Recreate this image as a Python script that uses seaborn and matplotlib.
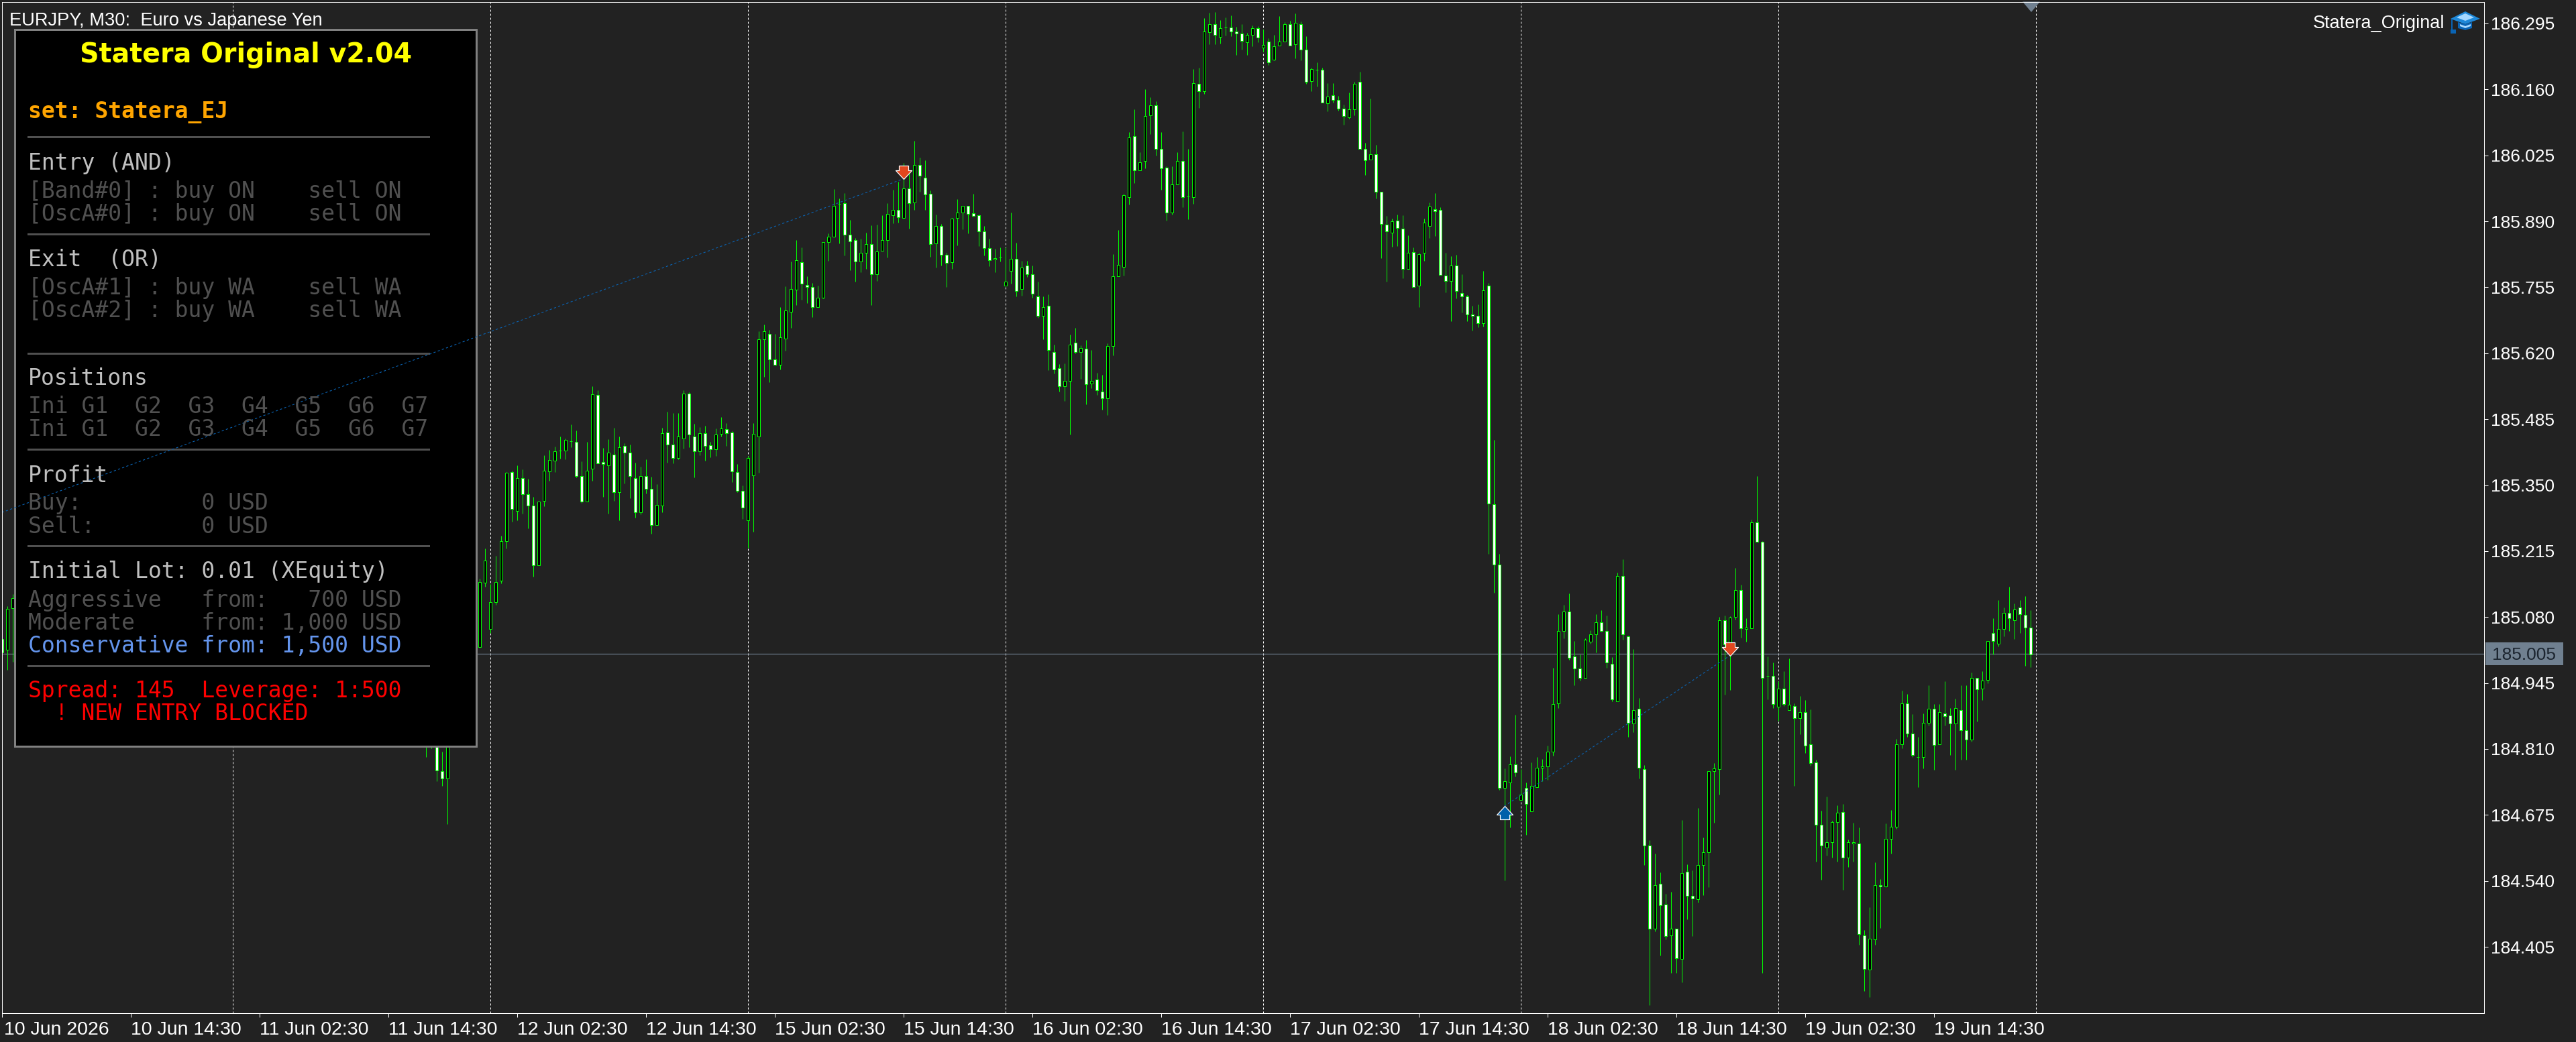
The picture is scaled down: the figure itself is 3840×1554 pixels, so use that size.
import numpy as np
import pandas as pd
import matplotlib
matplotlib.use("Agg")
import matplotlib.pyplot as plt
from matplotlib.patches import Rectangle, Polygon
from matplotlib.path import Path
from matplotlib.transforms import ScaledTranslation
import seaborn as sns

# ---------- data: points above 184.000 (1 point = 0.001 JPY) ----------
BASE = 184.0
bar_numbers = [0, 1, 2] + list(range(79, 84)) + list(range(89, 379))
opens_pts = [1035,1013,1098,900,830,900,765,750,
1019,1151,1056,1110,1155,1236,1377,1297,1364,1331,
1308,1186,1318,1378,1400,1421,1421,1440,1439,1369,
1316,1384,1534,1397,1391,1413,1335,1431,1417,1365,
1295,1368,1342,1268,1308,1458,1433,1405,1446,1537,
1450,1420,1457,1432,1423,1455,1464,1458,1377,1339,
1278,1370,1449,1648,1660,1608,1597,1650,1705,1750,
1807,1760,1756,1715,1734,1848,1859,1926,1927,1863,
1851,1808,1826,1844,1781,1830,1851,1903,1913,1897,
1957,1929,2006,1980,1947,1845,1881,1821,1807,1897,
1908,1922,1907,1902,1869,1835,1812,1816,1759,1789,
1813,1751,1799,1781,1737,1696,1717,1623,1589,1553,
1564,1642,1623,1630,1558,1566,1541,1528,1635,1778,
1797,1940,2065,1994,2013,2107,2127,2038,2000,1908,
1966,2013,1941,1940,2172,2157,2277,2294,2268,2288,
2287,2279,2274,2257,2271,2286,2245,2258,2221,2250,
2258,2293,2252,2293,2242,2177,2200,2200,2131,2148,
2139,2121,2103,2120,2176,2038,2017,2027,1951,1883,
1867,1892,1875,1793,1827,1758,1825,1881,1915,1913,
1779,1768,1800,1743,1737,1700,1696,1682,1758,1311,
1187,731,742,779,706,730,682,732,771,774,
805,903,1051,1091,1000,975,955,1030,1045,1069,
1052,984,907,1164,1041,862,892,769,612,442,
534,491,428,442,380,559,510,503,572,599,
765,769,1074,1024,1081,1135,1056,1057,1274,1234,
960,960,897,933,889,898,873,885,820,782,
655,608,619,661,681,587,617,616,429,359,
420,532,529,626,651,820,903,841,794,793,
864,892,820,883,878,862,890,849,829,956,
933,951,1047,1026,1056,1089,1073,1100,1085,1059]
closes_pts = [1008,1097,1119,880,850,766,750,900,
1152,1196,1110,1152,1235,1375,1301,1364,1332,1308,
1186,1317,1379,1401,1419,1421,1442,1440,1369,1317,
1380,1536,1395,1393,1416,1336,1428,1417,1368,1294,
1368,1342,1268,1309,1457,1433,1406,1450,1537,1453,
1420,1457,1431,1423,1453,1466,1457,1378,1339,1304,
1406,1455,1648,1665,1608,1597,1652,1708,1751,1810,
1762,1756,1715,1734,1848,1859,1922,1926,1863,1849,
1808,1826,1844,1781,1829,1851,1905,1913,1899,1958,
1927,2006,1983,1945,1844,1881,1822,1805,1896,1908,
1921,1905,1901,1870,1835,1811,1815,1816,1767,1813,
1748,1796,1782,1742,1697,1715,1626,1587,1553,1564,
1638,1623,1631,1557,1564,1544,1528,1635,1778,1801,
1943,2061,1994,2011,2106,2127,2039,1998,1908,1966,
2013,1939,1941,2173,2157,2278,2294,2271,2286,2288,
2279,2275,2260,2271,2286,2266,2251,2215,2249,2258,
2293,2250,2297,2242,2176,2201,2200,2133,2146,2139,
2121,2105,2120,2172,2038,2015,2027,1951,1885,1869,
1890,1876,1793,1826,1756,1823,1888,1920,1911,1780,
1768,1800,1748,1737,1700,1696,1682,1749,1312,1188,
730,744,778,762,717,697,734,771,774,805,
902,1051,1091,997,975,955,1033,1045,1070,1052,
987,912,1164,1045,863,890,771,612,442,532,
490,427,442,382,556,510,504,572,599,765,
770,1074,1024,1079,1135,1057,1059,1274,1234,956,
960,902,934,902,900,873,886,817,781,655,
612,619,660,679,587,619,619,431,360,421,
532,529,626,651,820,903,841,797,794,864,
892,818,885,877,862,894,848,829,955,932,
950,1031,1031,1056,1089,1078,1096,1086,1059,1004]
highs_pts = [1050,1102,1127,900,860,920,805,910,
1159,1221,1147,1205,1247,1377,1379,1391,1382,1363,
1326,1317,1411,1422,1429,1450,1445,1474,1462,1399,
1439,1553,1544,1426,1444,1467,1450,1436,1433,1396,
1388,1403,1367,1352,1467,1500,1498,1498,1544,1540,
1476,1469,1471,1438,1466,1490,1477,1461,1393,1349,
1410,1477,1665,1679,1668,1660,1714,1757,1808,1852,
1836,1777,1764,1758,1848,1865,1956,1937,1948,1893,
1856,1854,1867,1882,1883,1902,1927,1955,1971,2010,
1988,2055,2020,2015,1953,1904,1885,1826,1897,1935,
1921,1922,1947,1904,1880,1855,1834,1836,1837,1908,
1846,1809,1809,1800,1767,1737,1740,1638,1598,1599,
1658,1672,1636,1647,1627,1580,1576,1640,1823,1872,
1947,2072,2119,2032,2161,2144,2136,2072,2002,2002,
2032,2074,2039,2201,2204,2306,2317,2318,2302,2307,
2312,2288,2294,2276,2291,2290,2282,2265,2272,2310,
2298,2301,2316,2299,2269,2205,2216,2205,2173,2173,
2147,2129,2154,2175,2196,2051,2141,2047,1951,1901,
1895,1904,1902,1861,1837,1826,1896,1928,1948,1919,
1826,1819,1821,1782,1739,1717,1720,1789,1764,1443,
1210,770,795,880,769,741,782,793,790,817,
976,1086,1105,1128,1031,1004,1037,1053,1086,1094,
1083,998,1171,1198,1042,1014,914,777,623,596,
558,513,517,442,664,574,561,689,629,765,
781,1081,1083,1082,1181,1146,1077,1280,1369,1236,
1000,987,949,969,995,903,919,910,891,788,
683,712,663,695,697,625,659,649,440,486,
578,544,657,685,830,929,923,882,834,883,
940,902,902,948,893,913,941,940,967,956,
969,1031,1078,1114,1100,1142,1108,1114,1123,1094]
lows_pts = [995,972,988,793,811,744,734,656,
1018,1142,1047,1105,1149,1221,1275,1278,1292,1262,
1163,1186,1307,1359,1377,1404,1403,1428,1366,1314,
1316,1359,1395,1326,1292,1318,1278,1354,1323,1283,
1291,1333,1251,1268,1295,1396,1395,1403,1425,1428,
1366,1411,1400,1407,1410,1450,1430,1356,1336,1281,
1222,1255,1375,1572,1561,1595,1587,1625,1672,1718,
1730,1722,1694,1715,1732,1809,1859,1845,1820,1790,
1767,1786,1793,1718,1768,1830,1816,1886,1888,1896,
1875,1913,1951,1913,1817,1795,1800,1755,1792,1841,
1873,1866,1900,1839,1820,1798,1786,1808,1759,1763,
1737,1738,1776,1733,1693,1648,1586,1579,1542,1522,
1453,1620,1567,1516,1548,1535,1504,1494,1616,1777,
1779,1925,1968,1994,1999,2069,2025,1954,1892,1904,
1966,1919,1894,1926,2122,2151,2252,2252,2254,2270,
2269,2230,2241,2230,2248,2257,2237,2210,2220,2250,
2258,2250,2224,2219,2172,2156,2166,2133,2115,2133,
2117,2088,2100,2107,2038,1985,2017,1937,1815,1767,
1838,1840,1773,1791,1756,1714,1809,1856,1860,1780,
1744,1686,1732,1704,1686,1666,1673,1674,1209,1130,
726,541,650,754,706,634,682,732,744,747,
796,894,1036,993,941,950,955,1026,1007,1050,
976,907,907,1034,835,844,750,572,286,437,
387,420,351,351,332,461,427,495,511,527,
659,717,921,931,1075,1038,1029,1057,1234,352,
911,894,868,898,889,734,840,802,776,580,
542,592,587,580,522,568,580,409,315,302,
409,443,527,596,646,812,834,794,732,770,
858,768,820,858,798,768,788,788,825,866,
910,944,1004,1020,1040,1052,1035,1048,980,978]

time_labels = ["10 Jun 2026", "10 Jun 14:30", "11 Jun 02:30", "11 Jun 14:30",
               "12 Jun 02:30", "12 Jun 14:30", "15 Jun 02:30", "15 Jun 14:30",
               "16 Jun 02:30", "16 Jun 14:30", "17 Jun 02:30", "17 Jun 14:30",
               "18 Jun 02:30", "18 Jun 14:30", "19 Jun 02:30", "19 Jun 14:30"]
price_ticks = [186.295, 186.160, 186.025, 185.890, 185.755, 185.620, 185.485, 185.350,
               185.215, 185.080, 184.945, 184.810, 184.675, 184.540, 184.405]
last_price = 185.005

# closed trades: entry/exit bars and prices
trade_1_bars = [0, 168]
trade_1_prices = [185.294, 185.977]
trade_2_bars = [280, 322]
trade_2_prices = [184.693, 185.001]
sell_bars = [168, 322]
sell_prices = [185.977, 185.001]
buy_bars = [280]
buy_prices = [184.693]

grid_bars = [43, 91, 139, 187, 235, 283, 331, 379]
tick_bars = [24 * k for k in range(len(time_labels))]

# ---------- panel text ----------
panel_lines = [
    ("set: Statera_EJ", 164, "#FFA500", "bold"),
    ("Entry (AND)", 240, "#C0C0C0", "normal"),
    ("[Band#0] : buy ON    sell ON", 282, "#505050", "normal"),
    ("[OscA#0] : buy ON    sell ON", 316, "#505050", "normal"),
    ("Exit  (OR)", 384, "#C0C0C0", "normal"),
    ("[OscA#1] : buy WA    sell WA", 426, "#505050", "normal"),
    ("[OscA#2] : buy WA    sell WA", 460, "#505050", "normal"),
    ("Positions", 561, "#C0C0C0", "normal"),
    ("Ini G1  G2  G3  G4  G5  G6  G7", 603, "#505050", "normal"),
    ("Ini G1  G2  G3  G4  G5  G6  G7", 637, "#505050", "normal"),
    ("Profit", 706, "#C0C0C0", "normal"),
    ("Buy:         0 USD", 747, "#505050", "normal"),
    ("Sell:        0 USD", 782, "#505050", "normal"),
    ("Initial Lot: 0.01 (XEquity)", 849, "#C0C0C0", "normal"),
    ("Aggressive   from:   700 USD", 892, "#505050", "normal"),
    ("Moderate     from: 1,000 USD", 926, "#505050", "normal"),
    ("Conservative from: 1,500 USD", 960, "#6495ED", "normal"),
    ("Spread: 145  Leverage: 1:500", 1027, "#FF0000", "normal"),
    ("  ! NEW ENTRY BLOCKED", 1061, "#FF0000", "normal"),
]
panel_rules = [204, 349, 527, 670, 814, 993]

# ---------- build ----------
W, H = 3840, 1554
BG = "#222222"
GREEN = "#00FF00"
SLATE = "#708090"
sns.set_theme(style="dark", rc={"figure.facecolor": BG, "axes.facecolor": BG,
                                "axes.edgecolor": "white", "axes.grid": False})
plt.rcParams["font.family"] = ["Liberation Sans", "DejaVu Sans"]

df = pd.DataFrame({"bar": bar_numbers,
                   "open": BASE + np.array(opens_pts) / 1000,
                   "high": BASE + np.array(highs_pts) / 1000,
                   "low": BASE + np.array(lows_pts) / 1000,
                   "close": BASE + np.array(closes_pts) / 1000})
df["up"] = df["close"] >= df["open"]

fig = plt.figure(figsize=(W / 100, H / 100), dpi=100, facecolor=BG)
L, R, T, B = 2.5, 3703.5, 2.5, 1510.5
X0 = 2.6  # pixel of bar 0
ax = fig.add_axes([L / W, 1 - B / H, (R - L) / W, (B - T) / H])


def fx(x):
    return x / W


def fy(y):
    return 1 - y / H


PX = 0.72  # one pixel in points
for s in ax.spines.values():
    s.set_linewidth(PX)
    s.set_color("white")
    s.set_zorder(20)

# grid
grid_lines = ax.vlines(grid_bars, 0, 1, transform=ax.get_xaxis_transform(), colors="white",
                       linewidth=PX, linestyles=(0, (3, 3)), zorder=1)
grid_lines.set_snap(True)
# bid line
ax.axhline(last_price, color=SLATE, linewidth=PX * 1.2, zorder=1.5)

# candles
wicks = ax.vlines(df["bar"], df["low"], df["high"], colors=GREEN, linewidth=PX, zorder=2)
wicks.set_snap(True)
for up, face in [(True, "#000000"), (False, "#FFFFFF")]:
    d = df[df["up"] == up]
    ax.bar(d["bar"], (d["close"] - d["open"]).abs(), bottom=d[["open", "close"]].min(axis=1),
           width=0.5, facecolor=face, edgecolor=GREEN, linewidth=PX, zorder=3)

ppx = 0.135 / 98.36
y_top = 186.295 + (35 - T) * ppx
y_bot = 186.295 - (B - 35) * ppx
x_lo, x_hi = (L - X0) / 8, (R - X0) / 8
ax.set_xlim(x_lo, x_hi)
ax.set_ylim(y_bot, y_top)

# ticks
ax.yaxis.tick_right()
ax.set_yticks(price_ticks)
ax.set_yticklabels([f"{p:.3f}" for p in price_ticks], color="white", fontsize=19)
ax.set_xticks(tick_bars)
ax.set_xticklabels(time_labels, color="white", fontsize=20.5, ha="left")
ax.tick_params(axis="y", right=True, length=4, width=PX, color="white", pad=3)
ax.tick_params(axis="x", bottom=True, length=4, width=PX, color="white", pad=5)

# panel
panel_kw = dict(transform=fig.transFigure, clip_on=False)
ax.add_patch(Rectangle((fx(22), fy(1113)), (710 - 22) / W, (1113 - 44) / H, facecolor="#000000",
                       edgecolor="#808080", linewidth=PX * 3, zorder=5, **panel_kw))
for ry in panel_rules:
    ax.add_patch(Rectangle((fx(41), fy(ry + 1.5)), 600 / W, 3 / H, facecolor="#505050",
                           edgecolor="none", zorder=5.2, **panel_kw))

# trade lines over the panel
for bars, prices in [(trade_1_bars, trade_1_prices), (trade_2_bars, trade_2_prices)]:
    t = pd.DataFrame({"bar": bars, "price": prices})
    sns.lineplot(data=t, x="bar", y="price", ax=ax, color="#0A64B4", linewidth=PX * 1.1,
                 linestyle=(0, (3, 3)), estimator=None, sort=False, legend=False, zorder=6)

down_arrow = Path([(0, 0), (12, 13), (7, 13), (7, 20), (-7, 20), (-7, 13), (-12, 13), (0, 0)], closed=True)
up_arrow = Path([(0, 0), (12, -13), (7, -13), (7, -20), (-7, -20), (-7, -13), (-12, -13), (0, 0)], closed=True)
msize = (20 * 2 * PX) ** 2
sns.scatterplot(x=sell_bars, y=sell_prices, ax=ax, marker=down_arrow, s=msize, color="#E2471E",
                edgecolor="white", linewidth=PX * 1.2, zorder=7, legend=False)
sns.scatterplot(x=buy_bars, y=buy_prices, ax=ax, marker=up_arrow, s=msize, color="#0060AA",
                edgecolor="white", linewidth=PX * 1.2, zorder=7, legend=False)
ax.set_xlim(x_lo, x_hi)
ax.set_ylim(y_bot, y_top)
ax.set_xlabel("")
ax.set_ylabel("")

# first time label starts a little right of its tick
first_label = ax.get_xticklabels()[0]
first_label.set_transform(first_label.get_transform() + ScaledTranslation(3 / 100, 0, fig.dpi_scale_trans))

# panel texts
txt = dict(transform=fig.transFigure, zorder=8, clip_on=False, va="center_baseline")
ax.text(fx(367), fy(78), "Statera Original v2.04", color="#FFFF00", fontsize=28.5, fontweight="bold",
        family=["DejaVu Sans"], ha="center", **txt)
for s, y, c, w in panel_lines:
    ax.text(fx(41.5), fy(y), s, color=c, fontsize=23.8, fontweight=w, family=["DejaVu Sans Mono"],
            ha="left", **txt)

# header and corner texts
ax.text(fx(14), fy(28), "EURJPY, M30:  Euro vs Japanese Yen", color="white", fontsize=19.6, ha="left", **txt)
ax.text(fx(3644), fy(32), "Statera_Original", color="white", fontsize=19.5, ha="right", **txt)

# graduation-cap icon
icon = [
    ([(3653, 28), (3675, 17), (3697, 28), (3675, 36)], "#1E88D8"),
    ([(3664, 33), (3675, 36), (3685, 33), (3685, 42), (3675, 45), (3664, 42)], "#0A64B4"),
    ([(3662, 26), (3675, 20), (3688, 26), (3675, 31)], "#A5D8FF"),
    ([(3667, 36), (3675, 39), (3683, 36), (3683, 39), (3675, 42), (3667, 39)], "#A5D8FF"),
    ([(3653.5, 28), (3655.5, 28), (3655.5, 45), (3653.5, 45)], "#0A64B4"),
    ([(3653, 44), (3661, 44), (3661, 50), (3653, 50)], "#0A64B4"),
]
for pts, col in icon:
    ax.add_patch(Polygon([(fx(a), fy(b)) for a, b in pts], closed=True, facecolor=col, edgecolor="none",
                         zorder=8, **panel_kw))

# last-price tag
ax.add_patch(Rectangle((fx(3705), fy(992)), 116 / W, 34 / H, facecolor=SLATE, edgecolor="none",
                       zorder=9, **panel_kw))
ax.text(fx(3715), fy(975), f"{last_price:.3f}", color="#1C2530", fontsize=19, ha="left", **txt | {"zorder": 10})

# chart-shift marker
ax.add_patch(Polygon([(fx(3015), fy(2.5)), (fx(3041), fy(2.5)), (fx(3028), fy(18))], closed=True,
                     facecolor=SLATE, edgecolor="none", zorder=9, **panel_kw))

fig.savefig("out.png", dpi=100, facecolor=BG)
